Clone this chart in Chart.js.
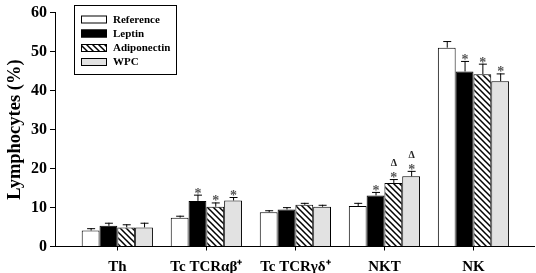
<!DOCTYPE html>
<html><head><meta charset="utf-8">
<script src="https://cdn.jsdelivr.net/npm/chart.js@4"></script>
<style>html,body{margin:0;padding:0;background:#fff}#wrap{width:536px;height:273px}</style>
</head><body><div id="wrap"><canvas id="c" width="536" height="273"></canvas></div>
<script>
const categories = ["Th", "Tc TCRαβ⁺", "Tc TCRγδ⁺", "NKT", "NK"];
const seriesNames = ["Reference", "Leptin", "Adiponectin", "WPC"];
const referenceVals = [4.1, 7.4, 8.8, 10.4, 51.0];
const leptinVals = [5.3, 11.7, 9.5, 13.1, 44.9];
const adiponectinVals = [4.9, 10.2, 10.7, 16.3, 44.2];
const wpcVals = [4.9, 11.8, 10.2, 18.0, 42.4];
const referenceErr = [0.6, 0.5, 0.5, 0.8, 1.7];
const leptinErr = [0.8, 1.6, 0.6, 0.9, 2.7];
const adiponectinErr = [0.8, 1.1, 0.5, 1.0, 2.7];
const wpcErr = [1.2, 0.9, 0.5, 1.4, 2.0];
const referenceMarks = ["", "", "", "", ""];
const leptinMarks = ["", "*", "", "*", "*"];
const adiponectinMarks = ["", "*", "", "*Δ", "*"];
const wpcMarks = ["", "*", "", "*Δ", "*"];
const yTicks = [0, 10, 20, 30, 40, 50, 60];

function hatch() {
  const p = document.createElement('canvas');
  p.width = 6; p.height = 6;
  const g = p.getContext('2d');
  g.fillStyle = '#fff'; g.fillRect(0, 0, 6, 6);
  g.strokeStyle = '#000'; g.lineWidth = 1.5;
  g.beginPath();
  g.moveTo(-1, -1); g.lineTo(7, 7);
  g.moveTo(-1, 5); g.lineTo(1, 7);
  g.moveTo(5, -1); g.lineTo(7, 1);
  g.stroke();
  return g.createPattern(p, 'repeat');
}
const fills = ['#ffffff', '#000000', hatch(), '#e2e2e2'];
const vals = [referenceVals, leptinVals, adiponectinVals, wpcVals];
const errs = [referenceErr, leptinErr, adiponectinErr, wpcErr];
const marks = [referenceMarks, leptinMarks, adiponectinMarks, wpcMarks];
const FONT = '"Liberation Serif", "Times New Roman", serif';

const datasets = seriesNames.map((n, i) => ({
  label: n,
  data: vals[i].map((v, k) => ({x: k, y: v})),
  backgroundColor: fills[i],
  borderColor: '#000',
  borderWidth: 1,
  errors: errs[i],
  marks: marks[i],
  categoryPercentage: 0.8,
  barPercentage: 1.0
}));

const extras = {
  id: 'extras',
  afterDatasetsDraw(chart) {
    const ctx = chart.ctx, ys = chart.scales.y;
    ctx.save();
    chart.data.datasets.forEach((ds, di) => {
      const meta = chart.getDatasetMeta(di);
      meta.data.forEach((bar, k) => {
        const v = ds.data[k].y, e = ds.errors[k];
        const top = ys.getPixelForValue(v + e);
        ctx.strokeStyle = '#000'; ctx.lineWidth = 1;
        ctx.beginPath();
        ctx.moveTo(bar.x + 0.5, bar.y);
        ctx.lineTo(bar.x + 0.5, top);
        ctx.moveTo(bar.x - 3.5, top + 0.5);
        ctx.lineTo(bar.x + 4.5, top + 0.5);
        ctx.stroke();
        const m = ds.marks[k];
        ctx.textAlign = 'center';
        ctx.textBaseline = 'alphabetic';
        if (m.includes('*')) {
          ctx.fillStyle = '#555';
          ctx.font = 'bold 14px ' + FONT;
          ctx.fillText('*', bar.x + 0.5, top + 3);
        }
        if (m.includes('Δ')) {
          ctx.fillStyle = '#222';
          ctx.font = 'bold 10px ' + FONT;
          ctx.fillText('Δ', bar.x + 0.5, top - 13);
        }
      });
    });
    // legend
    ctx.strokeStyle = '#000'; ctx.lineWidth = 1;
    ctx.strokeRect(74.5, 5.5, 102, 69);
    ctx.font = 'bold 11px ' + FONT;
    ctx.textAlign = 'left'; ctx.textBaseline = 'middle';
    const rows = [19.5, 33.5, 48, 62];
    seriesNames.forEach((n, i) => {
      ctx.fillStyle = fills[i];
      ctx.fillRect(81, rows[i] - 4, 26, 8);
      ctx.strokeRect(81.5, rows[i] - 3.5, 25, 7);
      ctx.fillStyle = '#000';
      ctx.fillText(n, 113, rows[i] + 0.5);
    });
    ctx.restore();
  }
};

new Chart(document.getElementById('c'), {
  type: 'bar',
  data: {datasets},
  options: {
    responsive: false,
    animation: false,
    events: [],
    layout: {padding: {top: 7, right: 2, left: 0, bottom: 0}},
    plugins: {legend: {display: false}, tooltip: {enabled: false}},
    scales: {
      x: {
        type: 'linear',
        offset: false,
        min: -0.7,
        max: 4.68,
        afterBuildTicks: s => { s.ticks = categories.map((c, i) => ({value: i})); },
        afterFit: s => { s.height = 26.5; },
        ticks: {
          callback: v => categories[v] ?? '',
          color: '#000',
          font: {family: FONT, size: 15, weight: 'bold'},
          padding: 8,
          maxRotation: 0, autoSkip: false
        },
        grid: {offset: false, drawOnChartArea: false, tickLength: 4, color: '#000', tickWidth: 1},
        border: {color: '#000', width: 1}
      },
      y: {
        min: 0, max: 60,
        afterBuildTicks: s => { s.ticks = yTicks.map(v => ({value: v})); },
        afterFit: s => { s.width = 55; },
        ticks: {
          color: '#000',
          font: {family: FONT, size: 16, weight: 'bold'},
          padding: 3
        },
        title: {
          display: true, text: 'Lymphocytes (%)', color: '#000',
          font: {family: FONT, size: 18.5, weight: 'bold'}, padding: {top: 4, bottom: 0}
        },
        grid: {drawOnChartArea: false, tickLength: 5, color: '#000'},
        border: {color: '#000', width: 1}
      }
    }
  },
  plugins: [extras]
});
</script></body></html>
